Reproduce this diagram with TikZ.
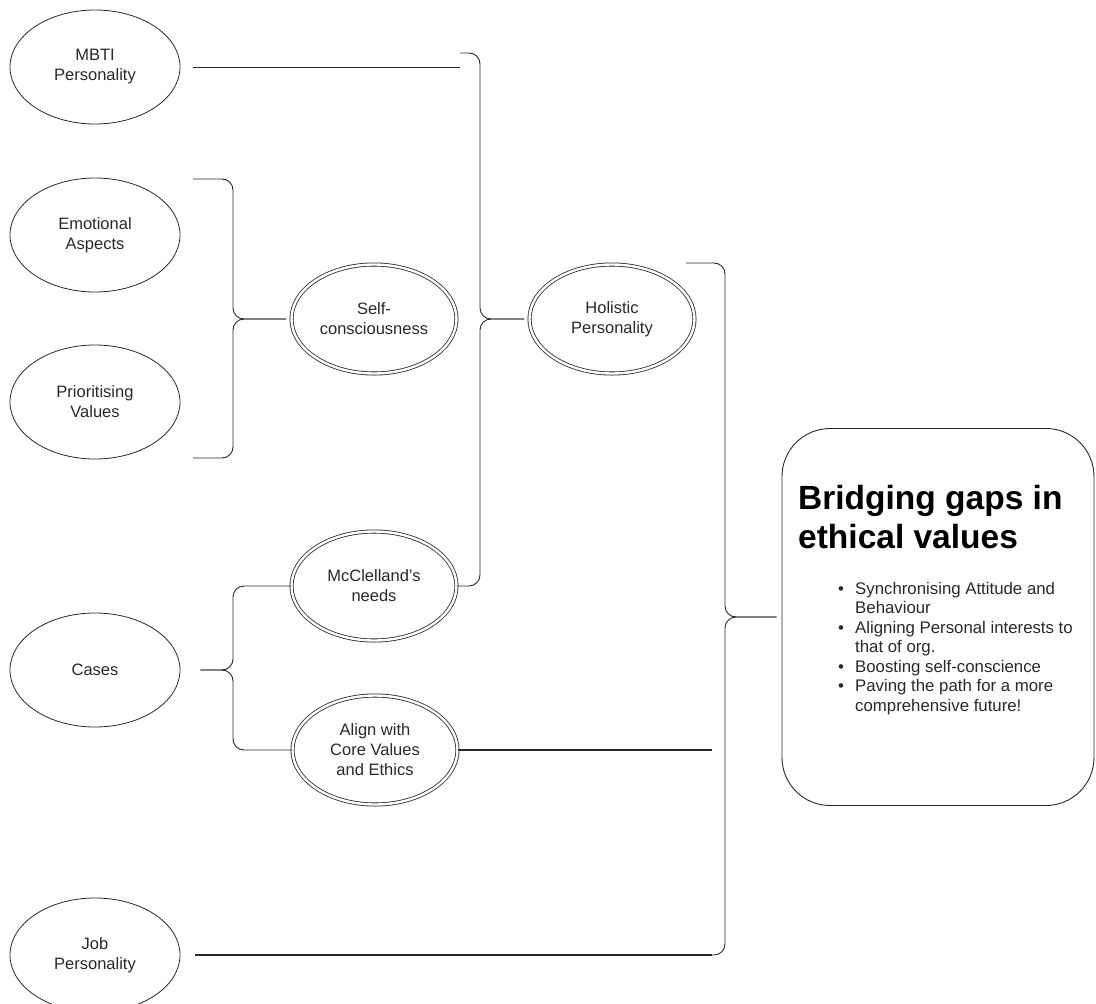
\documentclass[tikz,border=0pt]{standalone}
\usepackage{fontspec}
\setmainfont{Liberation Sans}
\usepackage{tikz}
\usetikzlibrary{shapes.geometric}
\definecolor{ink}{RGB}{40, 40, 40}
\newcommand{\bul}{\makebox[17pt][l]{\textbullet}}
\newcommand{\ind}{\hspace*{17pt}}

\begin{document}
\begin{tikzpicture}[
  plain/.style={ellipse, draw=ink, line width=0.8pt, minimum width=170pt, minimum height=114pt, inner sep=0pt, align=center, text=ink, font=\fontsize{16.5}{20}\selectfont},
  twin/.style={plain, double, double distance=2.4pt, minimum width=165pt, minimum height=109pt},
  panel/.style={draw=ink, line width=0.9pt, rounded corners=48pt, minimum width=312pt, minimum height=377pt},
  link/.style={draw=ink, line width=0.9pt},
  heavy/.style={draw=ink, line width=2.2pt},
  brace/.style={draw=ink, line width=0.9pt, rounded corners=11pt}]
\useasboundingbox (0pt, 0pt) rectangle (1096pt, -1004pt);
% left column
\node (mbti) [plain] at (95pt, -67pt) {MBTI\\Personality};
\node (emo) [plain] at (95pt, -235pt) {Emotional\\Aspects};
\node (prio) [plain] at (95pt, -402pt) {Prioritising\\Values};
\node (cases) [plain] at (95pt, -670pt) {Cases};
\node (job) [plain] at (95pt, -955pt) {Job\\Personality};
% middle column
\node (self) [twin] at (374pt, -319pt) {Self-\\consciousness};
\node (holi) [twin] at (612pt, -319pt) {Holistic\\Personality};
\node (mcc) [twin] at (374pt, -586pt) {McClelland's\\needs};
\node (align) [twin] at (375pt, -750pt) {Align with\\Core Values\\and Ethics};
% summary box
\node (bridge) [panel] at (938pt, -617pt) {};
\node (title) [anchor=north west, align=left, inner sep=0pt, font=\bfseries\fontsize{33.5}{39}\selectfont] at (798pt, -485pt) {Bridging gaps in\\ethical values};
\node (points) [anchor=north west, align=left, inner sep=0pt, text=ink, font=\fontsize{16.8}{19.5}\selectfont] at (838pt, -582pt)
  {\bul Synchronising Attitude and\\ \ind Behaviour\\ \bul Aligning Personal interests to\\ \ind that of org.\\ \bul Boosting self-conscience\\ \bul Paving the path for a more\\ \ind comprehensive future!};
% brace ends
\coordinate (mbtiend) at (460pt, -67pt);
\coordinate (hatop) at (460pt, -53pt);
\coordinate (ha) at (480pt, -319pt);
\coordinate (sbtop) at (193pt, -179pt);
\coordinate (sbbot) at (193pt, -458pt);
\coordinate (sb) at (233pt, -319pt);
\coordinate (cc) at (233pt, -670pt);
\coordinate (dtop) at (686pt, -263pt);
\coordinate (dbot) at (712pt, -955pt);
\coordinate (db) at (725pt, -617pt);
\coordinate (alignend) at (712pt, -750pt);
\coordinate (jobend) at (712pt, -955pt);
% connectors
\draw [link, shorten <=13pt] (mbti.east) -- (mbtiend);
\draw [brace, shorten >=5pt] (hatop) -| (ha) -- (holi.west);
\draw [brace, shorten >=5pt] (mcc.east) -| (ha) -- (holi.west);
\draw [brace, shorten >=5pt] (sbtop) -| (sb) -- (self.west);
\draw [brace, shorten >=5pt] (sbbot) -| (sb) -- (self.west);
\draw [brace, shorten >=20pt] (mcc.west) -| (cc) -- (cases.east);
\draw [brace, shorten >=20pt] (align.west) -| (cc) -- (cases.east);
\draw [brace, shorten >=5pt] (dtop) -| (db) -- (bridge.west);
\draw [brace, shorten >=5pt] (dbot) -| (db) -- (bridge.west);
\draw [heavy] (align.east) -- (alignend);
\draw [heavy, shorten <=15pt] (job.east) -- (jobend);
\end{tikzpicture}
\end{document}
